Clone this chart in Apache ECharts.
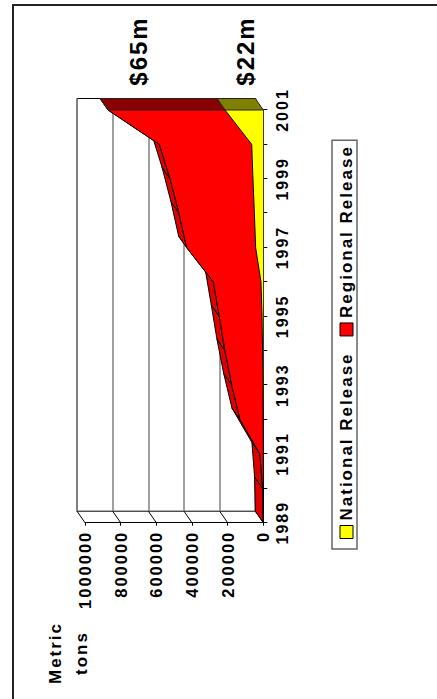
<!DOCTYPE html>
<html>
<head>
<meta charset="utf-8">
<style>
html, body { margin: 0; padding: 0; background: #fff; overflow: hidden; }
/* the whole page of the original is turned on its side */
#chart { position: absolute; left: 0; top: 0; width: 699px; height: 437px; transform-origin: 0 0; transform: translateY(699px) rotate(-90deg); }
#chart text { letter-spacing: 2px; }
</style>
<script src="https://cdn.jsdelivr.net/npm/echarts@6/dist/echarts.min.js"></script>
</head>
<body>
<div id="chart"></div>
<script>
var years = ['1989', '1990', '1991', '1992', '1993', '1994', '1995', '1996', '1997', '1998', '1999', '2000', '2001'];
var nationalRelease = [0, 0, 0, 1000, 2000, 4000, 7000, 13000, 43000, 50000, 58000, 65000, 215000];
var regionalRelease = [0, 4000, 19000, 130000, 175000, 211000, 240000, 267000, 387000, 423000, 465000, 518000, 656000];
var valueTicks = [0, 200000, 400000, 600000, 800000, 1000000];

var totals = nationalRelease.map(function(v, i) { return v + regionalRelease[i]; });
var lastYear = years.length - 1;
var font = 'Liberation Sans';

// how far the back wall sits from the front plane
var depthX = 11.5, depthY = -8;

function back(p) { return [p[0] + depthX, p[1] + depthY]; }

// top surface of the stack, one strip per year
function renderTop(params, api) {
    var i = api.value(0);
    if (i >= lastYear) return null;
    var a = api.coord([i, totals[i]]);
    var b = api.coord([i + 1, totals[i + 1]]);
    return {
        type: 'polygon',
        shape: { points: [a, b, back(b), back(a)] },
        style: { fill: '#e00000', stroke: '#000', lineWidth: 1 }
    };
}

// side walls: diagonal from each value tick back to the wall
function renderWallTick(params, api) {
    var a = api.coord([0, api.value(0)]);
    var b = back(a);
    return {
        type: 'line',
        shape: { x1: a[0], y1: a[1], x2: b[0], y2: b[1] },
        style: { stroke: '#000', lineWidth: 1 }
    };
}

// end face at the last year
function renderEnd(params, api) {
    var a = api.coord([lastYear, api.value(0)]);
    var b = api.coord([lastYear, api.value(1)]);
    return {
        type: 'polygon',
        shape: { points: [a, b, back(b), back(a)] },
        style: { fill: api.value(2) === 0 ? '#808000' : '#8b0000', stroke: '#222', lineWidth: 1 }
    };
}

var myChart = echarts.init(document.getElementById('chart'), null, { renderer: 'svg' });

var labelStyle = { color: '#000', fontFamily: font, fontWeight: 'bold' };

var option = {
    animation: false,
    backgroundColor: '#fff',
    textStyle: { fontFamily: font },
    legend: {
        left: 150,
        top: 332,
        orient: 'horizontal',
        data: ['National Release', 'Regional Release'],
        icon: 'rect',
        itemWidth: 13,
        itemHeight: 13,
        itemGap: 48,
        padding: [6, 37, 2, 10],
        borderColor: '#666',
        borderWidth: 1.5,
        itemStyle: { borderColor: '#000', borderWidth: 1 },
        textStyle: { color: '#000', fontFamily: font, fontWeight: 'bold', fontSize: 17 }
    },
    grid: [
        { left: 176.3, top: 85, width: 412.7, height: 178.3 },
        { left: 187.8, top: 77, width: 412.7, height: 178.3, show: true, borderColor: '#000', borderWidth: 1 }
    ],
    xAxis: [{
        type: 'category',
        gridIndex: 0,
        data: years,
        boundaryGap: false,
        axisLine: { lineStyle: { color: '#000' } },
        axisTick: { interval: 0, length: 4, lineStyle: { color: '#000' } },
        axisLabel: Object.assign({ interval: 1, margin: 11, fontSize: 16 }, labelStyle)
    }, {
        type: 'category',
        gridIndex: 1,
        data: years,
        boundaryGap: false,
        axisLine: { show: false },
        axisTick: { show: false },
        axisLabel: { show: false }
    }],
    yAxis: [{
        type: 'value',
        gridIndex: 0,
        min: 0,
        max: 1000000,
        interval: 200000,
        splitLine: { show: false },
        axisLine: { show: true, lineStyle: { color: '#000' } },
        axisTick: { show: true, length: 3, lineStyle: { color: '#000' } },
        axisLabel: Object.assign({ margin: 8, fontSize: 16.5, formatter: function(v) { return String(v); } }, labelStyle)
    }, {
        type: 'value',
        gridIndex: 1,
        min: 0,
        max: 1000000,
        interval: 200000,
        splitLine: { show: true, lineStyle: { color: '#808080', width: 1.5 } },
        axisLine: { show: false },
        axisTick: { show: false },
        axisLabel: { show: false }
    }],
    series: [{
        type: 'custom',
        name: 'wall',
        xAxisIndex: 0,
        yAxisIndex: 0,
        z: 1,
        silent: true,
        renderItem: renderWallTick,
        data: valueTicks.map(function(v) { return [v]; })
    }, {
        type: 'custom',
        name: 'top',
        xAxisIndex: 0,
        yAxisIndex: 0,
        z: 2,
        silent: true,
        renderItem: renderTop,
        data: years.map(function(y, i) { return [i]; })
    }, {
        name: 'National Release',
        type: 'line',
        stack: 'release',
        xAxisIndex: 0,
        yAxisIndex: 0,
        z: 4,
        symbol: 'none',
        data: nationalRelease,
        itemStyle: { color: '#ffff00' },
        lineStyle: { color: '#000', width: 1 },
        areaStyle: { color: '#ffff00', opacity: 1 }
    }, {
        name: 'Regional Release',
        type: 'line',
        stack: 'release',
        xAxisIndex: 0,
        yAxisIndex: 0,
        z: 3,
        symbol: 'none',
        data: regionalRelease,
        itemStyle: { color: '#ff0000' },
        lineStyle: { color: '#000', width: 1 },
        areaStyle: { color: '#ff0000', opacity: 1 }
    }, {
        type: 'custom',
        name: 'end',
        xAxisIndex: 0,
        yAxisIndex: 0,
        z: 5,
        silent: true,
        renderItem: renderEnd,
        data: [[0, nationalRelease[lastYear], 0], [nationalRelease[lastYear], totals[lastYear], 1]]
    }],
    graphic: [
        { type: 'polyline', shape: { points: [[0, 13], [694, 13], [694, 437]] }, style: { fill: 'none', stroke: '#222', lineWidth: 2 } },
        { type: 'text', x: 648, y: 138, style: { text: '$65m', fill: '#000', font: 'bold 24px "Liberation Sans"', textAlign: 'center', textVerticalAlign: 'middle' } },
        { type: 'text', x: 648, y: 245, style: { text: '$22m', fill: '#000', font: 'bold 24px "Liberation Sans"', textAlign: 'center', textVerticalAlign: 'middle' } },
        { type: 'text', x: 46, y: 55, style: { text: 'Metric', fill: '#000', font: 'bold 17px "Liberation Sans"', textAlign: 'center', textVerticalAlign: 'middle' } },
        { type: 'text', x: 46, y: 81, style: { text: 'tons', fill: '#000', font: 'bold 17px "Liberation Sans"', textAlign: 'center', textVerticalAlign: 'middle' } }
    ]
};

myChart.setOption(option);
</script>
</body>
</html>
